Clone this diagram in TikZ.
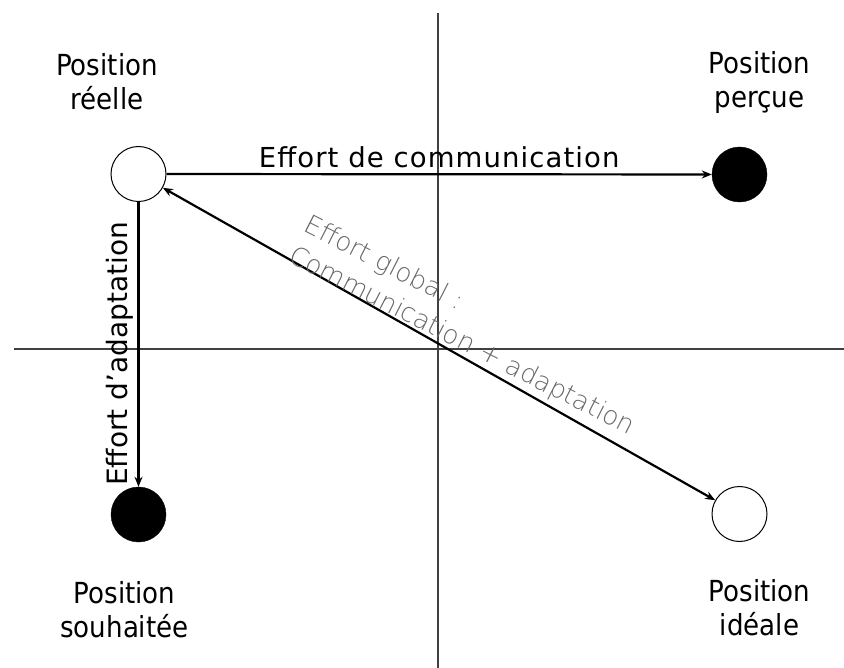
\documentclass[tikz,border=0pt]{standalone}
\usepackage{fontspec}
\setmainfont{DejaVu Sans}
\newfontfamily\condfont{DejaVu Sans Condensed}
\newfontfamily\lightfont{DejaVu Sans ExtraLight}
\usepackage{tikz}
\usetikzlibrary{positioning, calc, arrows.meta}
\tikzstyle{openpos} = [circle, minimum size=55pt, inner sep=0pt, draw=black, line width=1pt, fill=white]
\tikzstyle{fullpos} = [circle, minimum size=55pt, inner sep=0pt, draw=black, fill=black]
\tikzstyle{poslabel} = [align=center, font=\condfont\fontsize{29}{34}\selectfont, inner sep=0pt, anchor=base]
\tikzstyle{axis} = [line width=1.5pt, draw=black!75]
\tikzstyle{arrow} = [line width=2.2pt, -{Stealth[length=10pt,width=8pt]}]
\tikzstyle{darrow} = [line width=2.2pt, {Stealth[length=10pt,width=8pt]}-{Stealth[length=10pt,width=8pt]}]

\begin{document}
\begin{tikzpicture}[x=1pt, y=-1pt]
\useasboundingbox (0,0) rectangle (844,668);
% axes
\coordinate (top) at (438,13);
\coordinate (bottom) at (438,668);
\coordinate (left) at (14,349);
\coordinate (right) at (844,349);
\draw [axis] (top) -- (bottom);
\draw [axis] (left) -- (right);
% positions
\node (reel) [openpos] at (138.5,174) {};
\node (percue) [fullpos] at (739.5,174.5) {};
\node (souhaitee) [fullpos] at (138.5,514.5) {};
\node (ideale) [openpos] at (739.5,514) {};
\node (l1) [poslabel] at (107,110) {Position\\réelle};
\node (l2) [poslabel] at (759.5,108) {Position\\perçue};
\node (l3) [poslabel] at (124.5,637) {Position\\souhaitée};
\node (l4) [poslabel] at (759.5,635) {Position\\idéale};
% efforts
\draw [arrow] (reel) -- node[above=2pt, font=\fontsize{27.5}{33}\addfontfeature{LetterSpace=4}\selectfont]{Effort de communication} (percue);
\draw [arrow] (reel) -- (souhaitee);
\node (adapt) [rotate=90, anchor=base, inner sep=0pt, font=\fontsize{28}{34}\selectfont] at (127,354) {Effort d’adaptation};
\draw [darrow] (reel) -- (ideale);
\node (global) [rotate=-27, anchor=base west, align=left, inner sep=0pt, text=black!60, font=\lightfont\fontsize{26}{34}\selectfont] at (287,261) {Effort global :\\Communication + adaptation};
\end{tikzpicture}
\end{document}
